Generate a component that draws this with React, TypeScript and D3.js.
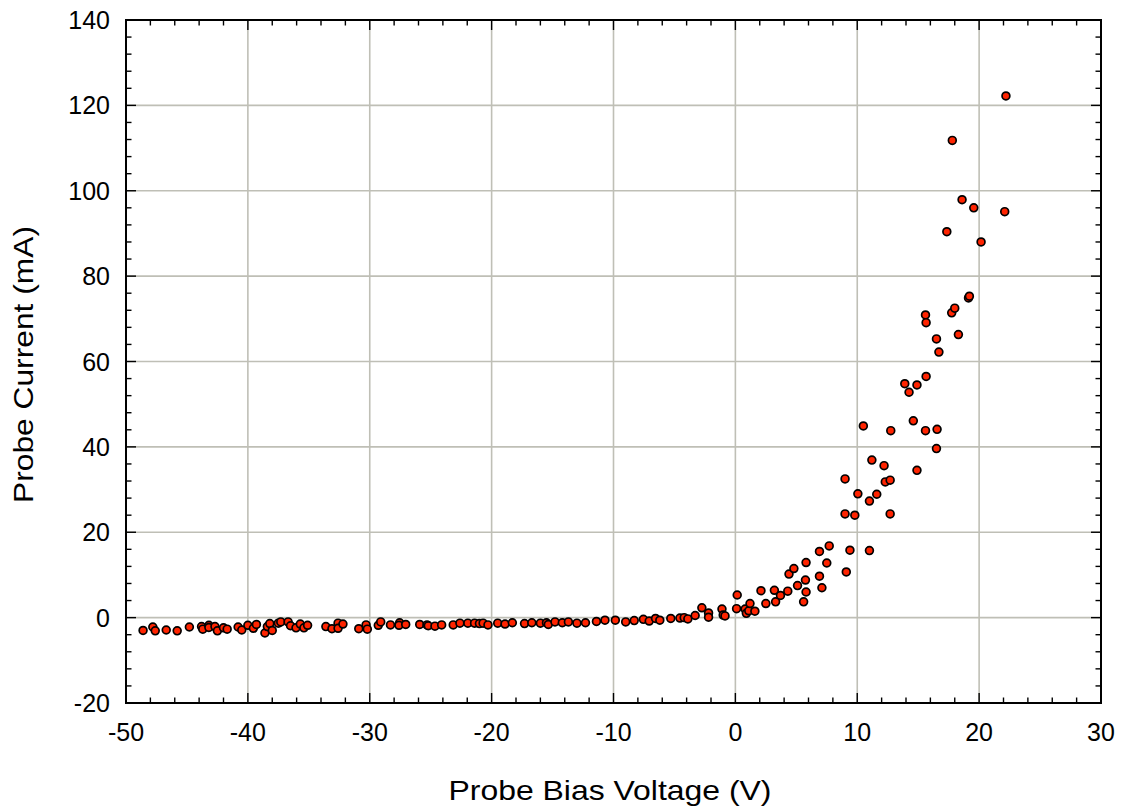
import React from "react";
import * as d3 from "d3";

const voltage: number[] = [
  -48.6, -47.8, -47.6, -46.7, -45.8, -44.8, -43.8, -43.7, -43.2, -43.2, -42.7, -42.5, -42.0, -41.7,
  -40.8, -40.5, -40.0, -39.55, -39.3, -38.6, -38.4, -38.2, -38.0, -37.5, -37.3, -36.7, -36.5, -36.05,
  -35.7, -35.4, -35.1, -33.6, -33.1, -32.6, -32.6, -32.2, -30.9, -30.3, -30.2, -29.3, -29.1, -28.3,
  -27.55, -27.6, -27.05, -25.9, -25.3, -25.2, -24.65, -24.1, -23.15, -22.6, -21.95, -21.4, -21.0,
  -20.7, -20.3, -19.5, -18.9, -18.3, -17.3, -16.7, -16.0, -15.5, -15.35, -14.8, -14.2, -13.7, -13.0,
  -12.3, -11.4, -10.7, -9.85, -9.0, -8.3, -7.55, -7.07, -6.55, -6.2, -5.3, -4.55, -4.2, -3.9, -3.3,
  -2.75, -2.2, -2.2, -1.1, -1.0, -0.85, 0.15, 0.1,
  0.8, 0.9, 1.1, 1.6, 1.2, 2.1, 2.5, 3.2, 3.3, 3.7, 4.3, 4.4, 4.8, 5.1, 5.6, 5.75, 5.8, 5.8, 6.9, 6.9,
  7.1, 7.5, 7.7, 9.0, 9.0, 9.1, 9.4, 9.8, 10.05, 10.5, 11.0, 11.0, 11.2, 11.6, 12.2, 12.3, 12.7, 12.7,
  12.75, 13.9, 14.25, 14.6, 14.9, 14.9, 15.6, 15.65, 15.6, 15.65, 16.5, 16.55, 16.5, 16.7, 17.35,
  17.8, 17.75, 18.0, 18.3, 18.6, 19.13, 19.2, 19.56, 20.16, 22.1, 22.2,
];

const current: number[] = [
  -3.0, -2.2, -3.1, -2.9, -3.1, -2.2, -2.1, -2.7, -1.8, -2.3, -2.1, -3.1, -2.4, -2.7,
  -2.2, -2.9, -1.8, -2.5, -1.6, -3.6, -2.1, -1.4, -3.0, -1.3, -1.0, -1.0, -1.9, -2.4,
  -1.5, -2.4, -1.8, -2.1, -2.6, -1.3, -2.5, -1.5, -2.6, -1.7, -2.7, -1.8, -1.0, -1.7,
  -1.2, -1.8, -1.6, -1.6, -1.7, -1.9, -2.0, -1.7, -1.7, -1.3, -1.3, -1.3, -1.4,
  -1.3, -1.7, -1.3, -1.5, -1.2, -1.4, -1.2, -1.3, -1.2, -1.6, -1.0, -1.2, -1.0, -1.3,
  -1.2, -0.9, -0.6, -0.6, -1.0, -0.7, -0.4, -0.8, -0.2, -0.6, -0.2, -0.1, 0.0, -0.3, 0.5,
  2.3, 1.1, 0.1, 2.0, 0.6, 0.4, 5.3, 2.1,
  2.0, 1.0, 1.6, 1.5, 3.3, 6.3, 3.3, 6.4, 3.7, 5.2, 6.2, 10.2, 11.5, 7.5, 3.7, 8.8, 6.0, 12.9, 15.5, 9.7,
  7.0, 12.8, 16.8, 32.5, 24.3, 10.7, 15.8, 24.0, 29.0, 44.9, 27.3, 15.7, 36.9, 28.9, 35.6, 31.8, 32.2, 24.3,
  43.8, 54.8, 52.8, 46.1, 54.5, 34.5, 43.8, 56.5, 70.9, 69.1, 65.3, 44.1, 39.6, 62.2, 90.4,
  111.8, 71.4, 72.5, 66.3, 97.9, 74.9, 75.3, 96.0, 88.0, 95.1, 122.2,
];

const xTicks: number[] = [-50, -40, -30, -20, -10, 0, 10, 20, 30];
const yTicks: number[] = [-20, 0, 20, 40, 60, 80, 100, 120, 140];
const xTitle = "Probe Bias Voltage (V)";
const yTitle = "Probe Current (mA)";

const W = 1124;
const H = 812;
const L = 126, R = 1101, T = 20, B = 703;
const FONT = "'Liberation Sans', Arial, sans-serif";

export default function App() {
  const x = d3.scaleLinear().domain([-50, 30]).range([L, R]);
  const y = d3.scaleLinear().domain([-20, 140]).range([B, T]);
  const xMinor = d3.range(-50, 30.001, 2);
  const yMinor = d3.range(-20, 140.001, 4);
  const isMajX = (v: number) => Math.abs(v % 10) < 1e-6;
  const isMajY = (v: number) => Math.abs(v % 20) < 1e-6;
  const grid = "#bfbfb6";
  const pts = voltage.map((v, i) => [v, current[i]] as [number, number]);

  return (
    <div style={{ position: "absolute", left: 0, top: 0 }}>
      <svg width={W} height={H} style={{ display: "block", background: "#fff" }}>
        {xTicks.slice(1, -1).map((v) => (
          <line key={"gx" + v} x1={x(v)} x2={x(v)} y1={T} y2={B} stroke={grid} strokeWidth={1.6} />
        ))}
        {yTicks.slice(1, -1).map((v) => (
          <line key={"gy" + v} x1={L} x2={R} y1={y(v)} y2={y(v)} stroke={grid} strokeWidth={1.6} />
        ))}
        {xMinor.map((v) => {
          const len = isMajX(v) ? 10 : 5.5;
          return (
            <g key={"tx" + v}>
              <line x1={x(v)} x2={x(v)} y1={B} y2={B - len} stroke="#000" strokeWidth={1.4} />
              <line x1={x(v)} x2={x(v)} y1={T} y2={T + len} stroke="#000" strokeWidth={1.4} />
            </g>
          );
        })}
        {yMinor.map((v) => {
          const len = isMajY(v) ? 10 : 5.5;
          return (
            <g key={"ty" + v}>
              <line x1={L} x2={L + len} y1={y(v)} y2={y(v)} stroke="#000" strokeWidth={1.4} />
              <line x1={R} x2={R - len} y1={y(v)} y2={y(v)} stroke="#000" strokeWidth={1.4} />
            </g>
          );
        })}
        <rect x={L} y={T} width={R - L} height={B - T} fill="none" stroke="#000" strokeWidth={2} />
        {xTicks.map((v) => (
          <text key={"lx" + v} x={x(v)} y={741} textAnchor="middle" fontFamily={FONT} fontSize={25} fill="#000">
            {v}
          </text>
        ))}
        {yTicks.map((v) => (
          <text key={"ly" + v} x={110} y={y(v)} dy="0.36em" textAnchor="end" fontFamily={FONT} fontSize={25} fill="#000">
            {v}
          </text>
        ))}
        <text x={610} y={800} textAnchor="middle" fontFamily={FONT} fontSize={28} textLength={323} lengthAdjust="spacingAndGlyphs" fill="#000">
          {xTitle}
        </text>
        <text transform={`translate(33,${(T + B) / 2 + 3}) rotate(-90)`} textAnchor="middle" fontFamily={FONT} fontSize={28} textLength={277} lengthAdjust="spacingAndGlyphs" fill="#000">
          {yTitle}
        </text>
        {pts.map((p, i) => (
          <circle key={i} cx={x(p[0])} cy={y(p[1])} r={3.9} fill="#ff2400" stroke="#000" strokeWidth={1.7} />
        ))}
      </svg>
    </div>
  );
}
